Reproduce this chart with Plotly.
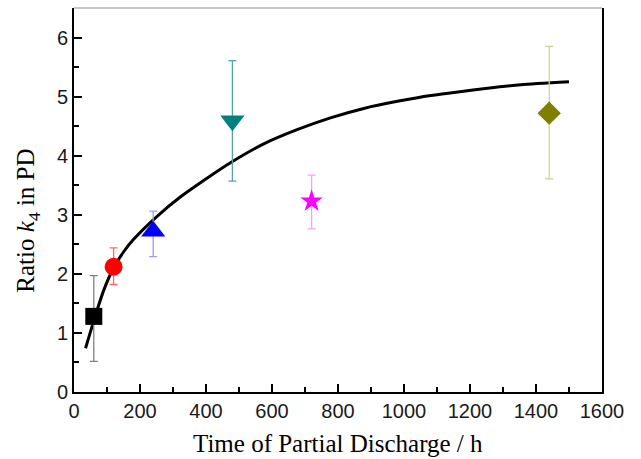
import plotly.graph_objects as go

# Partial-discharge ageing: measured k4 ratio at each sampling time
hours = [60, 120, 240, 480, 720, 1440]
ratio_k4 = [1.28, 2.12, 2.72, 4.59, 3.23, 4.72]
err_plus = [0.69, 0.32, 0.34, 1.02, 0.44, 1.13]
err_minus = [0.76, 0.30, 0.43, 1.02, 0.47, 1.11]

marker_symbols = ["square", "circle", "triangle-up", "triangle-down", "star", "diamond"]
marker_sizes = [17, 18, 21, 21, 17, 18]
marker_colors = ["#000000", "#ff0000", "#0000ff", "#008080", "#ff00ff", "#808000"]
error_colors = ["#808080", "#ff6a6a", "#9a9aff", "#4fa3a3", "#ff9cff", "#d2d2a2"]

# Saturating trend line through the measurements
fit_hours = [35, 64, 90, 119, 150, 180, 251, 322, 393, 474, 575, 676, 777, 878,
             980, 1081, 1152, 1253, 1354, 1500]
fit_ratio = [0.74, 1.28, 1.72, 2.09, 2.37, 2.58, 2.97, 3.30, 3.58, 3.88, 4.20, 4.44,
             4.64, 4.80, 4.92, 5.02, 5.07, 5.14, 5.20, 5.25]

x_ticks = list(range(0, 1601, 200))
y_ticks = list(range(0, 7))

fig = go.Figure()

fig.add_trace(go.Scatter(
    x=fit_hours, y=fit_ratio, mode="lines",
    line=dict(color="black", width=3, shape="spline", smoothing=0.6),
    showlegend=False, hoverinfo="skip",
))

for i in range(len(hours)):
    fig.add_trace(go.Scatter(
        x=[hours[i]], y=[ratio_k4[i]], mode="markers",
        marker=dict(symbol=marker_symbols[i], size=marker_sizes[i],
                    color=marker_colors[i], line=dict(width=0)),
        error_y=dict(type="data", symmetric=False,
                     array=[err_plus[i]], arrayminus=[err_minus[i]],
                     color=error_colors[i], thickness=1.3, width=4),
        showlegend=False,
    ))

tick_font = dict(family="Liberation Sans, Arial, sans-serif", size=20, color="#1a1a1a")
title_font = dict(family="Liberation Serif, Times New Roman, serif", size=25, color="black")

fig.update_xaxes(
    range=[0, 1600], tickvals=x_ticks, ticks="inside", ticklen=8, tickwidth=2,
    tickcolor="black", showline=True, linewidth=2, linecolor="black",
    showgrid=False, zeroline=False, tickfont=tick_font,
    minor=dict(dtick=100, ticks="inside", ticklen=5, tickwidth=2, tickcolor="black",
               showgrid=False),
)
fig.update_yaxes(
    range=[0, 6.5], tickvals=y_ticks, ticks="inside", ticklen=8, tickwidth=2,
    tickcolor="black", showline=True, linewidth=2, linecolor="black", mirror=True,
    showgrid=False, zeroline=False, tickfont=tick_font,
    minor=dict(dtick=0.5, ticks="inside", ticklen=5, tickwidth=2, tickcolor="black",
               showgrid=False),
)

# axis titles
fig.add_annotation(text="Time of Partial Discharge / h", xref="paper", yref="paper",
                   x=0.5, y=-0.135, xanchor="center", yanchor="middle",
                   showarrow=False, font=title_font)
fig.add_annotation(text="Ratio <i>k</i><sub>4</sub> in PD", xref="paper", yref="paper",
                   x=-0.088, y=0.445, xanchor="center", yanchor="middle",
                   textangle=-90, showarrow=False, font=title_font)

# thin grey frame edge along the top
fig.add_shape(type="line", xref="paper", yref="paper", x0=0, x1=1, y0=1, y1=1,
              line=dict(color="#8c8c8c", width=1.2))

fig.update_layout(
    width=641, height=459,
    margin=dict(l=74, r=39, t=8, b=67),
    paper_bgcolor="white", plot_bgcolor="white",
)

fig.write_html("out.html")
